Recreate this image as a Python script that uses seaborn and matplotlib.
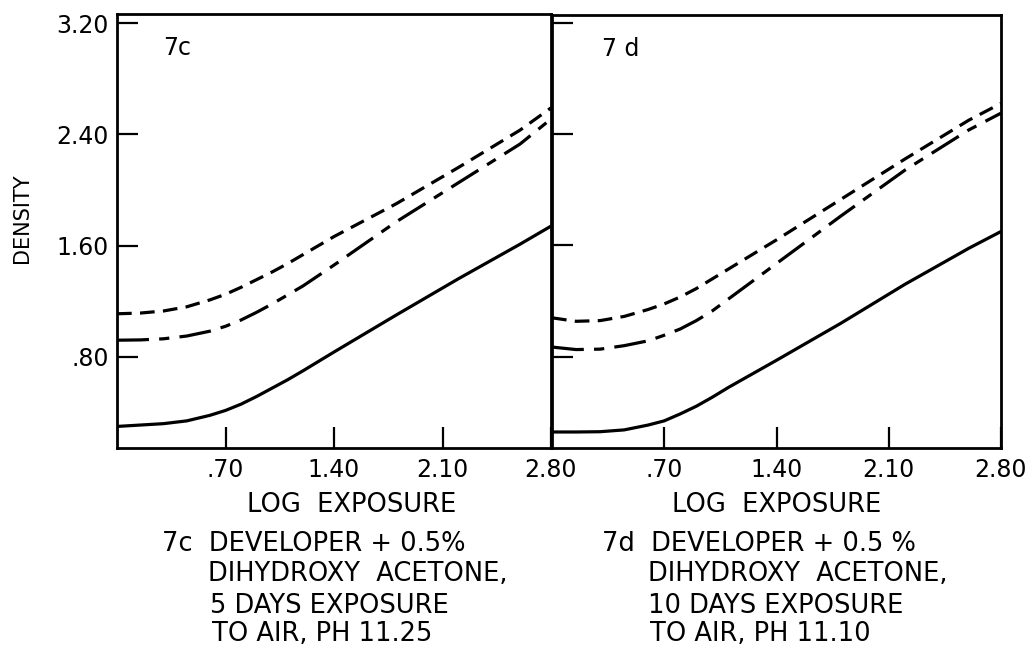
import matplotlib
matplotlib.use("Agg")
import matplotlib.pyplot as plt
import numpy as np
import pandas as pd
import seaborn as sns

# ---------------- data ----------------
log_exposure = [0.0, 0.15, 0.3, 0.45, 0.6, 0.7, 0.8, 0.9, 1.0, 1.1, 1.2, 1.4, 1.8, 2.2, 2.6, 2.8]

# panel 7c
c7_solid = [0.30, 0.31, 0.32, 0.34, 0.38, 0.415, 0.46, 0.515, 0.575, 0.635, 0.70, 0.835,
            1.10, 1.36, 1.61, 1.74]
c7_dash = [1.11, 1.115, 1.13, 1.16, 1.21, 1.25, 1.30, 1.355, 1.41, 1.47, 1.535, 1.665,
           1.90, 2.16, 2.43, 2.59]
c7_dashdot = [0.92, 0.922, 0.93, 0.95, 0.985, 1.02, 1.065, 1.12, 1.18, 1.245, 1.31, 1.46,
              1.77, 2.05, 2.33, 2.51]

# panel 7d
d7_solid = [0.26, 0.26, 0.262, 0.275, 0.31, 0.34, 0.39, 0.445, 0.51, 0.58, 0.645, 0.775,
            1.04, 1.32, 1.58, 1.70]
d7_dash = [1.08, 1.055, 1.06, 1.09, 1.14, 1.18, 1.23, 1.29, 1.36, 1.43, 1.50, 1.64,
           1.93, 2.22, 2.50, 2.62]
d7_dashdot = [0.87, 0.852, 0.855, 0.88, 0.915, 0.955, 1.00, 1.06, 1.13, 1.215, 1.30, 1.47,
              1.81, 2.14, 2.43, 2.55]

x_ticks = [0.70, 1.40, 2.10, 2.80]
x_tick_labels = [".70", "1.40", "2.10", "2.80"]
y_ticks = [0.80, 1.60, 2.40, 3.20]
y_tick_labels = [".80", "1.60", "2.40", "3.20"]

panel_tags = ["7c", "7 d"]
captions = {
    "7c": ["7c  DEVELOPER + 0.5%", "DIHYDROXY  ACETONE,", "5 DAYS EXPOSURE", "TO AIR, PH 11.25"],
    "7d": ["7d  DEVELOPER + 0.5 %", "DIHYDROXY  ACETONE,", "10 DAYS EXPOSURE", "TO AIR, PH 11.10"],
}

def long_frame(solid, dash, dashdot):
    rows = []
    for name, vals in (("solid", solid), ("dash", dash), ("dashdot", dashdot)):
        for x, y in zip(log_exposure, vals):
            rows.append({"log_exposure": x, "density": y, "curve": name})
    return pd.DataFrame(rows)

df_c = long_frame(c7_solid, c7_dash, c7_dashdot)
df_d = long_frame(d7_solid, d7_dash, d7_dashdot)

# ---------------- styling ----------------
sns.set_theme(style="white")
plt.rcParams["font.family"] = ["DejaVu Sans"]
plt.rcParams["axes.edgecolor"] = "black"
plt.rcParams["text.color"] = "black"
plt.rcParams["xtick.color"] = "black"
plt.rcParams["ytick.color"] = "black"

W, H = 1030, 653
fig = plt.figure(figsize=(W / 100, H / 100), dpi=100)
fig.patch.set_facecolor("white")

def rect(x0, y0, x1, y1):
    return [x0 / W, 1 - y1 / H, (x1 - x0) / W, (y1 - y0) / H]

ax1 = fig.add_axes(rect(117, 14, 551, 448))
ax2 = fig.add_axes(rect(552, 15, 1001, 448))

dash_map = {"solid": "", "dash": (4.6, 2.6), "dashdot": (10, 3.2, 3.2, 3.2)}
pal = {"solid": "black", "dash": "black", "dashdot": "black"}

for ax, df in ((ax1, df_c), (ax2, df_d)):
    sns.lineplot(data=df, x="log_exposure", y="density", hue="curve", style="curve",
                 dashes=dash_map, palette=pal, linewidth=2.3, legend=False, ax=ax)
    ax.set_xlim(0.0, 2.8)
    ax.set_ylim(0.145, 3.265 if ax is ax1 else 3.255)
    ax.set_xlabel("")
    ax.set_ylabel("")
    for s in ax.spines.values():
        s.set_linewidth(2.0)
        s.set_color("black")
    ax.set_xticks(x_ticks)
    ax.set_yticks(y_ticks)
    ax.tick_params(axis="both", which="major", direction="in", length=15, width=1.6,
                   color="black", labelsize=17, labelcolor="black",
                   bottom=True, left=True, top=False, right=False)
    ax.tick_params(axis="x", pad=7)
    ax.tick_params(axis="y", pad=6)
    ax.set_xticklabels(x_tick_labels)

ax1.set_yticklabels(y_tick_labels)
ax2.set_yticklabels([])

def ftext(x, y, s, **kw):
    fig.text(x / W, 1 - y / H, s, color="black", **kw)

ftext(163, 48, panel_tags[0], fontsize=17, ha="left", va="center")
ftext(602, 49, panel_tags[1], fontsize=17, ha="left", va="center")

ftext(22, 218, "DENSITY", rotation=90, fontsize=15, ha="center", va="center")
ftext(352, 505, "LOG  EXPOSURE", fontsize=18.5, ha="center", va="center")
ftext(777, 505, "LOG  EXPOSURE", fontsize=18.5, ha="center", va="center")

cap_y = [544, 574, 606, 634]
left_x = [162, 208, 210, 212]
right_x = [602, 648, 648, 650]
for i, line in enumerate(captions["7c"]):
    ftext(left_x[i], cap_y[i], line, fontsize=18.5, ha="left", va="center")
for i, line in enumerate(captions["7d"]):
    ftext(right_x[i], cap_y[i], line, fontsize=18.5, ha="left", va="center")

fig.savefig("out.png", dpi=100, facecolor="white")
